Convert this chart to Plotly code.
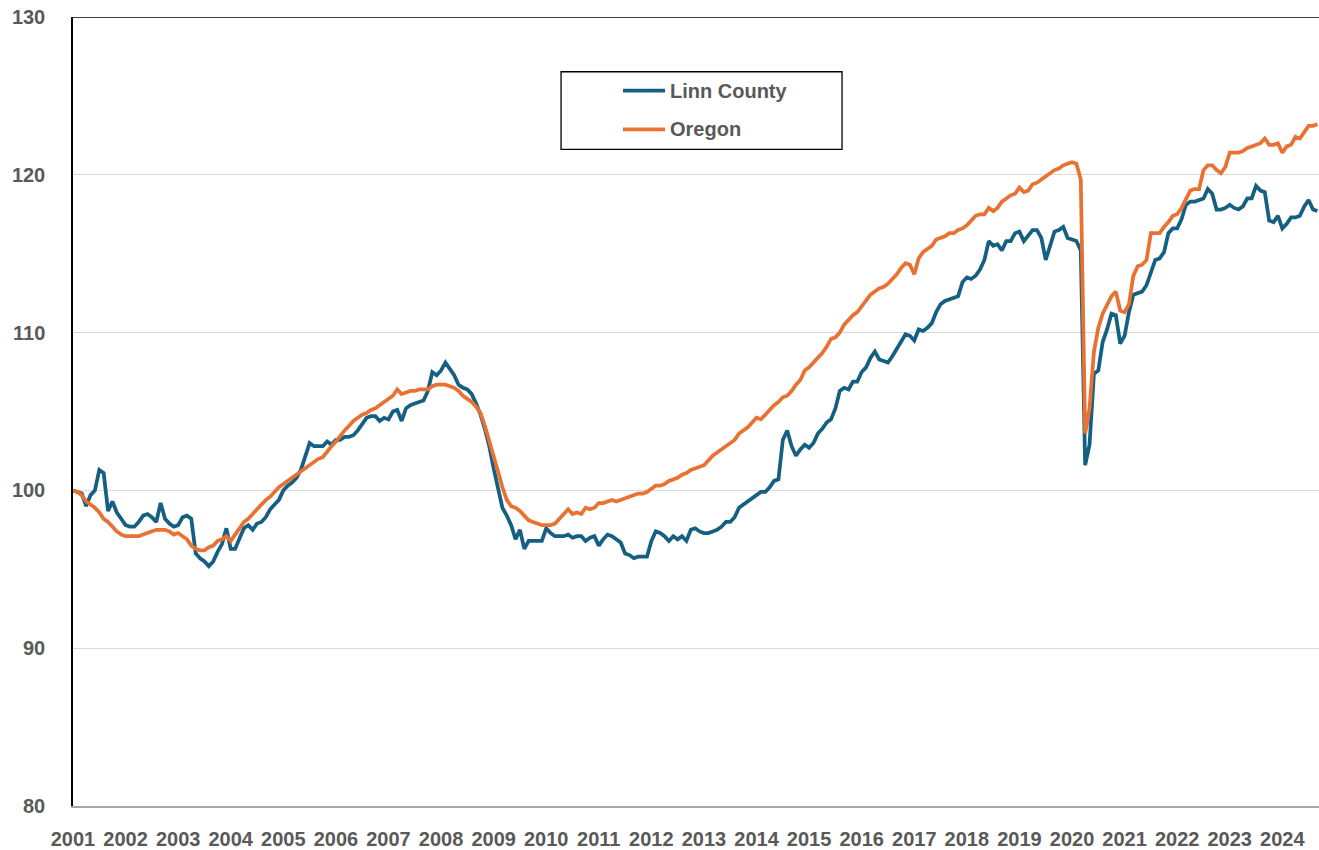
import plotly.graph_objects as go

# ---- data (monthly index values, Jan 2001 = 100) ----
year_labels = [str(y) for y in range(2001, 2025)]

linn_county = [
    100.0, 99.9, 99.8, 99.0, 99.7, 100.0, 101.3, 101.1, 98.7, 99.3, 98.6, 98.2,      # 2001
    97.8, 97.7, 97.7, 98.0, 98.4, 98.5, 98.3, 98.0, 99.2, 98.2, 97.9, 97.7,          # 2002
    97.8, 98.3, 98.4, 98.2, 96.0, 95.7, 95.5, 95.2, 95.5, 96.1, 96.6, 97.6,          # 2003
    96.3, 96.3, 96.9, 97.6, 97.8, 97.5, 97.9, 98.0, 98.3, 98.8, 99.1, 99.4,          # 2004
    100.0, 100.3, 100.5, 100.8, 101.3, 102.1, 103.0, 102.8, 102.8, 102.8, 103.1, 102.9,  # 2005
    103.2, 103.2, 103.4, 103.4, 103.5, 103.8, 104.2, 104.6, 104.7, 104.7, 104.4, 104.6,  # 2006
    104.5, 105.0, 105.1, 104.4, 105.2, 105.4, 105.5, 105.6, 105.7, 106.3, 107.5, 107.3,  # 2007
    107.6, 108.1, 107.7, 107.3, 106.7, 106.5, 106.4, 106.1, 105.5, 104.8, 103.9, 102.8,  # 2008
    101.4, 100.0, 98.9, 98.4, 97.8, 96.9, 97.5, 96.3, 96.8, 96.8, 96.8, 96.8,        # 2009
    97.6, 97.3, 97.1, 97.1, 97.1, 97.2, 97.0, 97.1, 97.1, 96.8, 97.0, 97.1,          # 2010
    96.5, 96.9, 97.2, 97.1, 96.9, 96.7, 96.0, 95.9, 95.7, 95.8, 95.8, 95.8,          # 2011
    96.8, 97.4, 97.3, 97.1, 96.8, 97.1, 96.9, 97.1, 96.8, 97.5, 97.6, 97.4,          # 2012
    97.3, 97.3, 97.4, 97.5, 97.7, 98.0, 98.0, 98.3, 98.9, 99.1, 99.3, 99.5,          # 2013
    99.7, 99.9, 99.9, 100.2, 100.6, 100.7, 103.2, 103.8, 102.8, 102.2, 102.6, 102.9,  # 2014
    102.7, 103.0, 103.6, 103.9, 104.3, 104.5, 105.2, 106.3, 106.5, 106.4, 106.9, 106.9,  # 2015
    107.5, 107.8, 108.4, 108.8, 108.3, 108.2, 108.1, 108.5, 109.0, 109.5, 109.9, 109.8,  # 2016
    109.5, 110.2, 110.1, 110.3, 110.6, 111.3, 111.8, 112.0, 112.1, 112.2, 112.3, 113.2,  # 2017
    113.5, 113.4, 113.6, 114.0, 114.6, 115.8, 115.5, 115.6, 115.2, 115.8, 115.8, 116.3,  # 2018
    116.4, 115.8, 116.2, 116.5, 116.5, 116.0, 114.6, 115.6, 116.4, 116.5, 116.7, 116.0,  # 2019
    115.9, 115.8, 115.2, 101.6, 102.9, 107.4, 107.6, 109.4, 110.2, 111.2, 111.1, 109.3,  # 2020
    109.8, 111.3, 112.4, 112.5, 112.6, 113.0, 113.8, 114.6, 114.7, 115.1, 116.3, 116.6,  # 2021
    116.6, 117.2, 118.1, 118.3, 118.3, 118.4, 118.5, 119.1, 118.8, 117.8, 117.8, 117.9,  # 2022
    118.1, 117.9, 117.8, 118.0, 118.5, 118.5, 119.3, 119.0, 118.9, 117.1, 117.0, 117.4,  # 2023
    116.6, 116.9, 117.3, 117.3, 117.4, 118.0, 118.4, 117.8, 117.7,                    # 2024
]

oregon = [
    100.0, 99.9, 99.7, 99.3, 99.1, 98.9, 98.6, 98.2, 98.0, 97.7, 97.4, 97.2,         # 2001
    97.1, 97.1, 97.1, 97.1, 97.2, 97.3, 97.4, 97.5, 97.5, 97.5, 97.4, 97.2,          # 2002
    97.3, 97.1, 96.9, 96.5, 96.3, 96.2, 96.2, 96.4, 96.5, 96.8, 96.9, 97.1,          # 2003
    96.8, 97.2, 97.6, 98.0, 98.2, 98.5, 98.8, 99.1, 99.4, 99.6, 99.9, 100.2,         # 2004
    100.4, 100.6, 100.8, 101.0, 101.2, 101.4, 101.6, 101.8, 102.0, 102.1, 102.5, 102.8,  # 2005
    103.1, 103.5, 103.8, 104.1, 104.4, 104.6, 104.8, 104.9, 105.1, 105.2, 105.4, 105.6,  # 2006
    105.8, 106.0, 106.4, 106.1, 106.2, 106.3, 106.3, 106.4, 106.4, 106.4, 106.6, 106.7,  # 2007
    106.7, 106.7, 106.6, 106.5, 106.3, 106.0, 105.8, 105.6, 105.3, 104.9, 104.1, 103.2,  # 2008
    102.2, 101.2, 100.2, 99.4, 99.0, 98.9, 98.7, 98.4, 98.1, 98.0, 97.9, 97.8,       # 2009
    97.8, 97.8, 97.9, 98.2, 98.5, 98.8, 98.5, 98.6, 98.5, 98.9, 98.8, 98.9,          # 2010
    99.2, 99.2, 99.3, 99.4, 99.3, 99.4, 99.5, 99.6, 99.7, 99.8, 99.8, 99.9,          # 2011
    100.1, 100.3, 100.3, 100.4, 100.6, 100.7, 100.8, 101.0, 101.1, 101.3, 101.4, 101.5,  # 2012
    101.6, 101.9, 102.2, 102.4, 102.6, 102.8, 103.0, 103.2, 103.6, 103.8, 104.0, 104.3,  # 2013
    104.6, 104.5, 104.8, 105.1, 105.4, 105.6, 105.9, 106.0, 106.3, 106.7, 107.0, 107.6,  # 2014
    107.8, 108.1, 108.4, 108.7, 109.1, 109.6, 109.7, 110.0, 110.5, 110.8, 111.1, 111.3,  # 2015
    111.7, 112.0, 112.4, 112.6, 112.8, 112.9, 113.1, 113.4, 113.7, 114.1, 114.4, 114.3,  # 2016
    113.7, 114.7, 115.1, 115.3, 115.5, 115.9, 116.0, 116.1, 116.3, 116.3, 116.5, 116.6,  # 2017
    116.8, 117.1, 117.4, 117.5, 117.5, 117.9, 117.7, 117.9, 118.3, 118.5, 118.7, 118.8,  # 2018
    119.2, 118.9, 119.0, 119.4, 119.5, 119.7, 119.9, 120.1, 120.3, 120.4, 120.6, 120.7,  # 2019
    120.8, 120.7, 119.7, 103.6, 105.2, 108.8, 110.3, 111.2, 111.7, 112.3, 112.6, 111.4,  # 2020
    111.3, 111.8, 113.6, 114.2, 114.3, 114.6, 116.3, 116.3, 116.3, 116.7, 117.0, 117.4,  # 2021
    117.5, 117.9, 118.4, 119.0, 119.1, 119.1, 120.3, 120.6, 120.6, 120.3, 120.1, 120.5,  # 2022
    121.4, 121.4, 121.4, 121.5, 121.7, 121.8, 121.9, 122.0, 122.3, 121.9, 121.9, 122.0,  # 2023
    121.4, 121.8, 121.9, 122.4, 122.3, 122.7, 123.1, 123.1, 123.2,                    # 2024
]

series_names = ["Linn County", "Oregon"]
series_colors = ["#156082", "#E97132"]

# month index since Jan 2001 (category position)
months = list(range(len(oregon)))
year_ticks = [12 * i for i in range(len(year_labels))]

TEXT = "#595959"
FONT = "Liberation Sans"

fig = go.Figure()
for name, vals, col in zip(series_names, [linn_county, oregon], series_colors):
    fig.add_trace(go.Scatter(
        x=months, y=vals, mode="lines", name=name,
        line=dict(color=col, width=3.75),
        showlegend=False, hoverinfo="x+y+name",
    ))

fig.update_layout(
    width=1319, height=850, autosize=False,
    margin=dict(l=73, r=0, t=17, b=40, pad=0),
    paper_bgcolor="white", plot_bgcolor="white",
    font=dict(family=FONT, color=TEXT, size=20),
)

fig.update_xaxes(
    range=[0, 284.37],
    tickmode="array", tickvals=year_ticks, ticktext=year_labels,
    showgrid=False, zeroline=False,
    showline=True, linecolor="#A6A6A6", linewidth=1.5,
    ticks="", ticklabelstandoff=14,
    tickfont=dict(family=FONT, size=20, color=TEXT, weight="bold"),
)
fig.update_yaxes(
    range=[80, 130], dtick=10, tick0=80,
    showgrid=True, gridcolor="#D9D9D9", gridwidth=1,
    zeroline=False,
    showline=True, linecolor="black", linewidth=1.5,
    ticks="", ticklabelstandoff=22,
    tickfont=dict(family=FONT, size=20, color=TEXT, weight="bold"),
)

# top border of plot area
fig.add_shape(type="line", xref="paper", yref="y", x0=0, x1=1, y0=130, y1=130,
              line=dict(color="black", width=1.5))

# boxed legend
fig.add_shape(type="rect", xref="paper", yref="paper",
              x0=0.3917, x1=0.6172, y0=0.8323, y1=0.9306,
              line=dict(color="black", width=1.3), fillcolor="white", layer="above")
legend_y = [0.9067, 0.8575]
for name, col, ly in zip(series_names, series_colors, legend_y):
    fig.add_shape(type="line", xref="paper", yref="paper",
                  x0=0.4414, x1=0.4751, y0=ly, y1=ly,
                  line=dict(color=col, width=3.75), layer="above")
    fig.add_annotation(xref="paper", yref="paper", x=0.4775, y=ly,
                       xanchor="left", yanchor="middle", showarrow=False,
                       text=name, font=dict(family=FONT, size=20, color=TEXT, weight="bold"))

fig.write_html("out.html", config={"displayModeBar": False},
               post_script="document.body.style.margin='0';document.body.style.overflow='hidden';")
